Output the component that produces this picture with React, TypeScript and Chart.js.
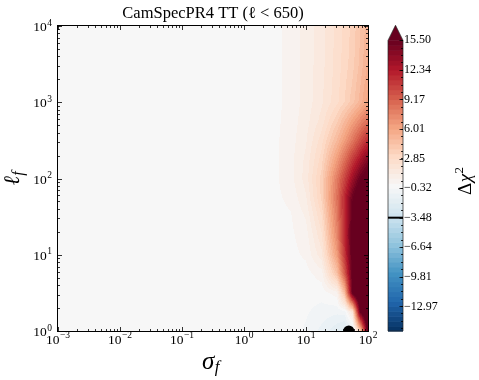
import React, { useEffect, useRef } from "react";
import { Chart, registerables } from "chart.js";

Chart.register(...registerables);

// ---------------- data ----------------
// grid nodes (log10 sigma_f, log10 ell_f)
const logSigmaGrid = [-3, 0.5, 0.75, 1.0, 1.25, 1.5, 1.625, 1.75, 1.875, 2.0];
const logEllGrid = [0, 0.25, 0.5, 0.75, 1.0, 1.25, 1.5, 1.75, 2.0, 2.25, 2.5, 2.75, 3.0, 3.5, 4.0];

// Delta chi^2 read along each ell_f row (columns follow logSigmaGrid)
const dchi2_ell_0_00 = [0, 0, -0.05, -0.4, -1.0, -1.8, -2.2, -1.5, 4.0, 17.0];
const dchi2_ell_0_25 = [0, 0, 0, -0.25, -0.55, -0.7, -0.6, 2.0, 15.8, 19.0];
const dchi2_ell_0_50 = [0, 0, 0, -0.05, -0.1, 0.5, 5.0, 15.8, 19.0, 20.0];
const dchi2_ell_0_75 = [0, 0, 0, 0.02, 0.45, 4.5, 9.5, 16.0, 19.0, 20.0];
const dchi2_ell_1_00 = [0, 0, 0.05, 0.3, 1.6, 6.5, 11.2, 16.3, 19.0, 20.0];
const dchi2_ell_1_25 = [0, 0, 0.1, 0.5, 2.2, 7.5, 11.8, 16.3, 19.0, 20.0];
const dchi2_ell_1_50 = [0, 0.03, 0.15, 0.8, 2.8, 8.0, 11.8, 16.0, 19.0, 20.0];
const dchi2_ell_1_75 = [0, 0.08, 0.35, 1.2, 3.5, 8.5, 11.8, 15.4, 18.0, 19.0];
const dchi2_ell_2_00 = [0, 0.1, 0.55, 1.5, 3.6, 8.0, 10.5, 13.2, 15.6, 17.0];
const dchi2_ell_2_25 = [0, 0.1, 0.55, 1.4, 3.1, 6.5, 8.6, 10.8, 12.8, 14.6];
const dchi2_ell_2_50 = [0, 0.1, 0.5, 1.2, 2.6, 5.0, 6.5, 8.2, 10.0, 11.6];
const dchi2_ell_2_75 = [0, 0.07, 0.45, 1.05, 2.0, 3.8, 5.0, 6.3, 7.5, 8.7];
const dchi2_ell_3_00 = [0, 0.05, 0.4, 0.95, 1.7, 2.7, 3.4, 4.2, 5.2, 6.3];
const dchi2_ell_3_50 = [0, 0.05, 0.4, 0.95, 1.6, 2.55, 3.1, 3.7, 4.6, 5.6];
const dchi2_ell_4_00 = [0, 0.05, 0.4, 0.95, 1.6, 2.5, 3.0, 3.55, 4.4, 5.3];

const dchi2Rows = [
  dchi2_ell_0_00, dchi2_ell_0_25, dchi2_ell_0_50, dchi2_ell_0_75, dchi2_ell_1_00,
  dchi2_ell_1_25, dchi2_ell_1_50, dchi2_ell_1_75, dchi2_ell_2_00, dchi2_ell_2_25,
  dchi2_ell_2_50, dchi2_ell_2_75, dchi2_ell_3_00, dchi2_ell_3_50, dchi2_ell_4_00,
];

const levelMin = -15.606;
const levelMax = 15.5;
const levelCount = 60;
const cbTickValues = [15.5, 12.34, 9.17, 6.01, 2.85, -0.32, -3.48, -6.64, -9.81, -12.97];
const cbMarkedLevel = -3.48;

const bestFitSigma = [49];
const bestFitEll = [1];

const xTickExponents = [-3, -2, -1, 0, 1, 2];
const yTickExponents = [0, 1, 2, 3, 4];
const titleText = "CamSpecPR4 TT (\u2113 < 650)";

// ---------------- helpers ----------------
const RDBU = [
  [103, 0, 31], [178, 24, 43], [214, 96, 77], [244, 165, 130], [253, 219, 199],
  [247, 247, 247], [209, 229, 240], [146, 197, 222], [67, 147, 195], [33, 102, 172], [5, 48, 97],
];
function rdbuR(t: number): number[] {
  const c = Math.max(0, Math.min(1, t));
  const s = (1 - c) * 10;
  const i = Math.min(9, Math.floor(s));
  const f = s - i;
  const a = RDBU[i], b = RDBU[i + 1];
  return [0, 1, 2].map((k) => Math.round(a[k] + (b[k] - a[k]) * f));
}
const levelStep = (levelMax - levelMin) / (levelCount - 1);
const levels = Array.from({ length: levelCount }, (_, k) => levelMin + k * levelStep);
const bandColors = levels.slice(0, -1).map((l) => rdbuR((l + levelStep / 2 - levelMin) / (levelMax - levelMin)));
const overColor = rdbuR(1);

function colorFor(v: number): number[] {
  if (v >= levelMax) return overColor;
  let k = Math.floor((v - levelMin) / levelStep);
  if (k < 0) k = 0;
  if (k > bandColors.length - 1) k = bandColors.length - 1;
  return bandColors[k];
}
function seg(g: number[], v: number): [number, number] {
  if (v <= g[0]) return [0, 0];
  if (v >= g[g.length - 1]) return [g.length - 2, 1];
  for (let i = 0; i < g.length - 1; i++) {
    if (v <= g[i + 1]) return [i, (v - g[i]) / (g[i + 1] - g[i])];
  }
  return [g.length - 2, 1];
}
function fieldAt(ls: number, ll: number): number {
  const [i, fx] = seg(logSigmaGrid, ls);
  const [j, fy] = seg(logEllGrid, ll);
  const r0 = dchi2Rows[j], r1 = dchi2Rows[j + 1];
  const a = r0[i] * (1 - fx) + r0[i + 1] * fx;
  const b = r1[i] * (1 - fx) + r1[i + 1] * fx;
  return a * (1 - fy) + b * fy;
}
const rgb = (c: number[]) => `rgb(${c[0]},${c[1]},${c[2]})`;
const SERIF = "'Liberation Serif', 'DejaVu Serif', serif";

function drawPow10(ctx: CanvasRenderingContext2D, exp: number, x: number, baseY: number, align: string) {
  const base = "10";
  const sup = exp < 0 ? "\u2212" + Math.abs(exp) : String(exp);
  ctx.font = `13.5px ${SERIF}`;
  const wb = ctx.measureText(base).width;
  ctx.font = `9.5px ${SERIF}`;
  const ws = ctx.measureText(sup).width;
  const total = wb + ws + 0.5;
  const sx = align === "center" ? x - total / 2 : x - total;
  ctx.textAlign = "left";
  ctx.textBaseline = "alphabetic";
  ctx.fillStyle = "#000";
  ctx.font = `13.5px ${SERIF}`;
  ctx.fillText(base, sx, baseY);
  ctx.font = `9.5px ${SERIF}`;
  ctx.fillText(sup, sx + wb + 0.5, baseY - 5.5);
}

const noPad = (s: any) => {
  s.paddingTop = 0;
  s.paddingBottom = 0;
  s.paddingLeft = 0;
  s.paddingRight = 0;
};

// ---------------- plugins ----------------
const heatmapPlugin = {
  id: "heatmap",
  beforeDatasetsDraw(chart: any) {
    const { ctx, chartArea: a, scales } = chart;
    const xs = scales.x, ys = scales.y;
    const x0 = Math.round(a.left), y0 = Math.round(a.top);
    const w = Math.round(a.right) - x0, h = Math.round(a.bottom) - y0;
    const img = ctx.createImageData(w, h);
    const colL = new Float64Array(w);
    for (let i = 0; i < w; i++) colL[i] = Math.log10(xs.getValueForPixel(x0 + i + 0.5));
    for (let j = 0; j < h; j++) {
      const ll = Math.log10(ys.getValueForPixel(y0 + j + 0.5));
      for (let i = 0; i < w; i++) {
        const c = colorFor(fieldAt(colL[i], ll));
        const p = (j * w + i) * 4;
        img.data[p] = c[0]; img.data[p + 1] = c[1]; img.data[p + 2] = c[2]; img.data[p + 3] = 255;
      }
    }
    ctx.putImageData(img, x0, y0);
  },
};

const decorPlugin = {
  id: "decor",
  afterDraw(chart: any) {
    const { ctx, chartArea: a, scales } = chart;
    const xs = scales.x, ys = scales.y, cb = scales.cb;
    ctx.save();
    // frame
    ctx.strokeStyle = "#000";
    ctx.lineWidth = 1;
    ctx.strokeRect(a.left - 0.5, a.top - 0.5, a.right - a.left + 1, a.bottom - a.top + 1);
    // ticks
    ctx.lineWidth = 0.8;
    ctx.beginPath();
    const xMajor = xTickExponents.map((e) => Math.pow(10, e));
    const yMajor = yTickExponents.map((e) => Math.pow(10, e));
    const xMinor: number[] = [];
    xTickExponents.slice(0, -1).forEach((e) => { for (let m = 2; m <= 9; m++) xMinor.push(m * Math.pow(10, e)); });
    const yMinor: number[] = [];
    yTickExponents.slice(0, -1).forEach((e) => { for (let m = 2; m <= 9; m++) yMinor.push(m * Math.pow(10, e)); });
    const vt = (v: number, len: number) => {
      const x = Math.round(xs.getPixelForValue(v)) + 0.5;
      ctx.moveTo(x, a.bottom); ctx.lineTo(x, a.bottom - len);
      ctx.moveTo(x, a.top); ctx.lineTo(x, a.top + len);
    };
    const ht = (v: number, len: number) => {
      const y = Math.round(ys.getPixelForValue(v)) + 0.5;
      ctx.moveTo(a.left, y); ctx.lineTo(a.left + len, y);
      ctx.moveTo(a.right, y); ctx.lineTo(a.right - len, y);
    };
    xMajor.forEach((v) => vt(v, 4));
    xMinor.forEach((v) => vt(v, 2));
    yMajor.forEach((v) => ht(v, 4));
    yMinor.forEach((v) => ht(v, 2));
    ctx.stroke();
    // tick labels
    xTickExponents.forEach((e) => drawPow10(ctx, e, xs.getPixelForValue(Math.pow(10, e)), a.bottom + 12.5, "center"));
    yTickExponents.forEach((e) => drawPow10(ctx, e, a.left - 6, ys.getPixelForValue(Math.pow(10, e)) + 5, "right"));

    // colorbar
    const cx0 = cb.left + 20, cx1 = cb.left + 35;
    for (let k = 0; k < levels.length - 1; k++) {
      const yT = cb.getPixelForValue(levels[k + 1]);
      const yB = cb.getPixelForValue(levels[k]);
      ctx.fillStyle = rgb(bandColors[k]);
      ctx.fillRect(cx0, yT, cx1 - cx0, yB - yT + 0.6);
    }
    const yTop = cb.getPixelForValue(levelMax);
    const yApex = cb.getPixelForValue(cb.max) - 0.7;
    ctx.fillStyle = rgb(overColor);
    ctx.beginPath();
    ctx.moveTo(cx0, yTop + 0.5); ctx.lineTo((cx0 + cx1) / 2, yApex); ctx.lineTo(cx1, yTop + 0.5); ctx.closePath();
    ctx.fill();
    const yBot = cb.getPixelForValue(levelMin);
    ctx.strokeStyle = "#222";
    ctx.lineWidth = 0.7;
    ctx.beginPath();
    ctx.moveTo(cx0, yBot); ctx.lineTo(cx0, yTop); ctx.lineTo((cx0 + cx1) / 2, yApex); ctx.lineTo(cx1, yTop); ctx.lineTo(cx1, yBot); ctx.closePath();
    ctx.stroke();
    // colorbar ticks
    ctx.strokeStyle = "#000";
    ctx.lineWidth = 0.8;
    ctx.beginPath();
    cbTickValues.forEach((v) => {
      const y = Math.round(cb.getPixelForValue(v)) + 0.5;
      ctx.moveTo(cx1, y); ctx.lineTo(cx1 - 3.5, y);
    });
    const majStep = cbTickValues[0] - cbTickValues[1];
    for (let v = cbTickValues[0]; v > levelMin; v -= majStep / 4) {
      const y = Math.round(cb.getPixelForValue(v)) + 0.5;
      ctx.moveTo(cx1, y); ctx.lineTo(cx1 - 2, y);
    }
    ctx.stroke();
    // marked contour level
    ctx.lineWidth = 2;
    ctx.beginPath();
    const ym = cb.getPixelForValue(cbMarkedLevel);
    ctx.moveTo(cx0, ym); ctx.lineTo(cx1, ym);
    ctx.stroke();

    // title
    ctx.fillStyle = "#000";
    ctx.textAlign = "center";
    ctx.textBaseline = "alphabetic";
    ctx.font = `16.5px ${SERIF}`;
    ctx.fillText(titleText, (a.left + a.right) / 2, 18);

    // x axis label sigma_f
    ctx.textAlign = "left";
    ctx.font = `italic 25px ${SERIF}`;
    const sx = (a.left + a.right) / 2 - 11;
    ctx.fillText("\u03c3", sx, 368.5);
    const wS = ctx.measureText("\u03c3").width;
    ctx.font = `italic 17px ${SERIF}`;
    ctx.fillText("f", sx + wS + 0.5, 372);

    // y axis label ell_f
    ctx.save();
    ctx.translate(19, (a.top + a.bottom) / 2);
    ctx.rotate(-Math.PI / 2);
    ctx.font = `italic 22px ${SERIF}`;
    const wl = ctx.measureText("\u2113").width;
    ctx.font = `italic 16px ${SERIF}`;
    const wf = ctx.measureText("f").width;
    const st = -(wl + wf) / 2;
    ctx.font = `italic 22px ${SERIF}`;
    ctx.fillText("\u2113", st, 0);
    ctx.font = `italic 16px ${SERIF}`;
    ctx.fillText("f", st + wl + 0.5, 4);
    ctx.restore();

    // colorbar label Delta chi^2
    ctx.save();
    ctx.translate(471, 181);
    ctx.rotate(-Math.PI / 2);
    ctx.font = `19px ${SERIF}`;
    const wD = ctx.measureText("\u0394").width;
    ctx.font = `italic 19px ${SERIF}`;
    const wC = ctx.measureText("\u03c7").width;
    ctx.font = `13px ${SERIF}`;
    const w2 = ctx.measureText("2").width;
    const s0 = -(wD + wC + w2 + 1) / 2;
    ctx.font = `19px ${SERIF}`;
    ctx.fillText("\u0394", s0, 0);
    ctx.font = `italic 19px ${SERIF}`;
    ctx.fillText("\u03c7", s0 + wD + 0.5, 0);
    ctx.font = `13px ${SERIF}`;
    ctx.fillText("2", s0 + wD + wC + 1, -8);
    ctx.restore();

    ctx.restore();
  },
};

// ---------------- component ----------------
export default function App() {
  const ref = useRef<HTMLCanvasElement>(null);
  useEffect(() => {
    const canvas = ref.current!;
    const chart = new Chart(canvas, {
      type: "scatter",
      data: {
        datasets: [
          {
            data: bestFitSigma.map((s, i) => ({ x: s, y: bestFitEll[i] })),
            pointRadius: 5.5,
            pointHoverRadius: 5.5,
            backgroundColor: "#000",
            borderWidth: 0,
            clip: 0,
          } as any,
        ],
      },
      options: {
        responsive: false,
        animation: false,
        devicePixelRatio: 1,
        events: [],
        layout: { padding: { top: 26, left: 0, right: 0, bottom: 0 }, autoPadding: false },
        plugins: { legend: { display: false }, title: { display: false }, tooltip: { enabled: false } },
        scales: {
          x: {
            type: "logarithmic",
            position: "bottom",
            min: 1e-3,
            max: 100,
            grid: { display: false, drawTicks: false },
            border: { display: false },
            ticks: { display: false },
            afterBuildTicks: (s: any) => { s.ticks = xTickExponents.map((e) => ({ value: Math.pow(10, e) })); },
            afterFit: (s: any) => { s.height = 49; noPad(s); },
          },
          y: {
            type: "logarithmic",
            position: "left",
            min: 1,
            max: 1e4,
            grid: { display: false, drawTicks: false },
            border: { display: false },
            ticks: { display: false },
            afterBuildTicks: (s: any) => { s.ticks = yTickExponents.map((e) => ({ value: Math.pow(10, e) })); },
            afterFit: (s: any) => { s.width = 58; noPad(s); },
          },
          cb: {
            type: "linear",
            position: "right",
            min: levelMin,
            max: 17.03,
            grid: { display: false, drawTicks: false },
            border: { display: false },
            ticks: {
              autoSkip: false,
              padding: 36,
              color: "#000",
              font: { family: "'Liberation Serif', serif", size: 12 },
              callback: (v: any) => Number(v).toFixed(2).replace("-", "\u2212"),
            },
            afterBuildTicks: (s: any) => { s.ticks = cbTickValues.map((v) => ({ value: v })); },
            afterFit: (s: any) => { s.width = 111; noPad(s); },
          },
        },
      } as any,
      plugins: [heatmapPlugin, decorPlugin],
    });
    return () => chart.destroy();
  }, []);
  return (
    <div style={{ position: "fixed", left: 0, top: 0, width: 479, height: 380, background: "#fff" }}>
      <canvas ref={ref} width={479} height={380} style={{ display: "block" }} />
    </div>
  );
}
